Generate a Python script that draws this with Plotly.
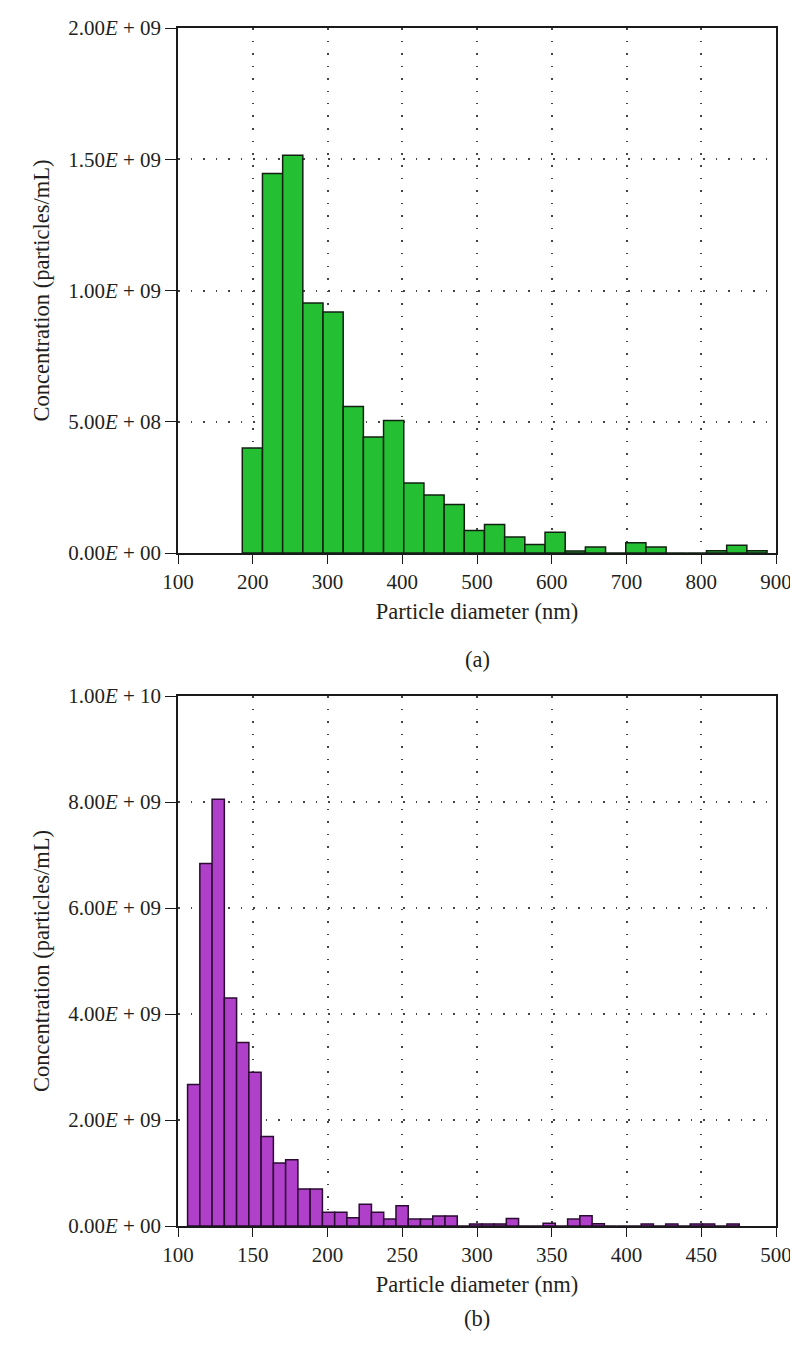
import numpy as np
import plotly.graph_objects as go

# ---------------------------------------------
# data
# ---------------------------------------------
# (a) bins start at ~186 nm, ~27 nm wide
bin_start_a = 186.0
bin_width_a = 27.0
conc_a = [0.40e9, 1.446e9, 1.515e9, 0.952e9, 0.918e9, 0.558e9, 0.442e9, 0.505e9,
          0.267e9, 0.221e9, 0.185e9, 0.086e9, 0.109e9, 0.061e9, 0.032e9, 0.079e9,
          0.008e9, 0.023e9, 0.0, 0.039e9, 0.023e9, 0.0, 0.0, 0.009e9, 0.030e9, 0.009e9]

# (b) bins start at ~106.4 nm, ~8.2 nm wide
bin_start_b = 106.4
bin_width_b = 8.2
conc_b = [2.67e9, 6.84e9, 8.05e9, 4.30e9, 3.46e9, 2.90e9, 1.69e9, 1.19e9, 1.25e9,
          0.70e9, 0.70e9, 0.26e9, 0.26e9, 0.157e9, 0.41e9, 0.26e9, 0.13e9, 0.38e9,
          0.13e9, 0.13e9, 0.19e9, 0.19e9, 0.0, 0.04e9, 0.04e9, 0.04e9, 0.14e9,
          0.0, 0.0, 0.05e9, 0.0, 0.13e9, 0.195e9, 0.044e9, 0.0, 0.0, 0.0, 0.04e9,
          0.0, 0.04e9, 0.0, 0.04e9, 0.04e9, 0.0, 0.04e9]

x_ticks_a = [100, 200, 300, 400, 500, 600, 700, 800, 900]
x_ticks_b = [100, 150, 200, 250, 300, 350, 400, 450, 500]
y_ticks_a = [0, 5e8, 1e9, 1.5e9, 2e9]
y_labels_a = ["0.00", "5.00", "1.00", "1.50", "2.00"]
y_exp_a = ["00", "08", "09", "09", "09"]
y_ticks_b = [0, 2e9, 4e9, 6e9, 8e9, 1e10]
y_labels_b = ["0.00", "2.00", "4.00", "6.00", "8.00", "1.00"]
y_exp_b = ["00", "09", "09", "09", "09", "10"]

x_title = "Particle diameter (nm)"
y_title = "Concentration (particles/mL)"

# ---------------------------------------------
# figure
# ---------------------------------------------
W, H = 798, 1364
FONT = "Liberation Serif"
TXT = "#231f20"
TICK_SIZE = 21
TITLE_SIZE = 22.5

def sci(m, e):
    return f"{m}<i>E</i> + {e}"

centers_a = bin_start_a + bin_width_a * (np.arange(len(conc_a)) + 0.5)
centers_b = bin_start_b + bin_width_b * (np.arange(len(conc_b)) + 0.5)

fig = go.Figure()
fig.add_trace(go.Bar(
    x=centers_a, y=conc_a, width=bin_width_a,
    marker=dict(color="#25bf34", line=dict(color="#122012", width=1.5)),
    xaxis="x", yaxis="y", showlegend=False
))
fig.add_trace(go.Bar(
    x=centers_b, y=conc_b, width=bin_width_b,
    marker=dict(color="#b03fc9", line=dict(color="#2a0c32", width=1.5)),
    xaxis="x2", yaxis="y2", showlegend=False
))

def py(top, bottom):
    # pixel rows -> paper domain
    return [1 - bottom / H, 1 - top / H]

xdom = [170 / W, 768 / W]

grid = dict(showgrid=True, gridcolor="#444444", gridwidth=1.5, griddash="1.5px,11px")
axis_common = dict(
    showline=True, linecolor="#1a1a1a", linewidth=1.5, mirror=True,
    ticks="outside", tickwidth=1.3, tickcolor="#1a1a1a",
    zeroline=False, automargin=False,
    tickfont=dict(family=FONT, size=TICK_SIZE, color=TXT),
    **grid
)
title_font = dict(family=FONT, size=TITLE_SIZE, color=TXT)

fig.update_layout(
    width=W, height=H,
    margin=dict(l=0, r=0, t=0, b=0),
    paper_bgcolor="white", plot_bgcolor="white",
    font=dict(family=FONT, size=TICK_SIZE, color=TXT),
    barmode="overlay",
    xaxis=dict(domain=xdom, anchor="y", range=[100, 900], tickvals=x_ticks_a, ticklen=9,
               title=dict(text=x_title, standoff=10, font=title_font), **axis_common),
    yaxis=dict(domain=py(20, 545), anchor="x", range=[0, 2e9], tickvals=y_ticks_a, ticklen=11,
               ticktext=[sci(m, e) for m, e in zip(y_labels_a, y_exp_a)],
               title=dict(text=y_title, standoff=12, font=title_font), **axis_common),
    xaxis2=dict(domain=xdom, anchor="y2", range=[100, 500], tickvals=x_ticks_b, ticklen=9,
                title=dict(text=x_title, standoff=10, font=title_font), **axis_common),
    yaxis2=dict(domain=py(688, 1218), anchor="x2", range=[0, 1e10], tickvals=y_ticks_b, ticklen=11,
                ticktext=[sci(m, e) for m, e in zip(y_labels_b, y_exp_b)],
                title=dict(text=y_title, standoff=12, font=title_font), **axis_common),
    annotations=[
        dict(text="(a)", x=469 / W, y=1 - 651 / H, xref="paper", yref="paper",
             showarrow=False, font=title_font),
        dict(text="(b)", x=469 / W, y=1 - 1325 / H, xref="paper", yref="paper",
             showarrow=False, font=title_font),
    ],
)

fig.write_html("out.html")
